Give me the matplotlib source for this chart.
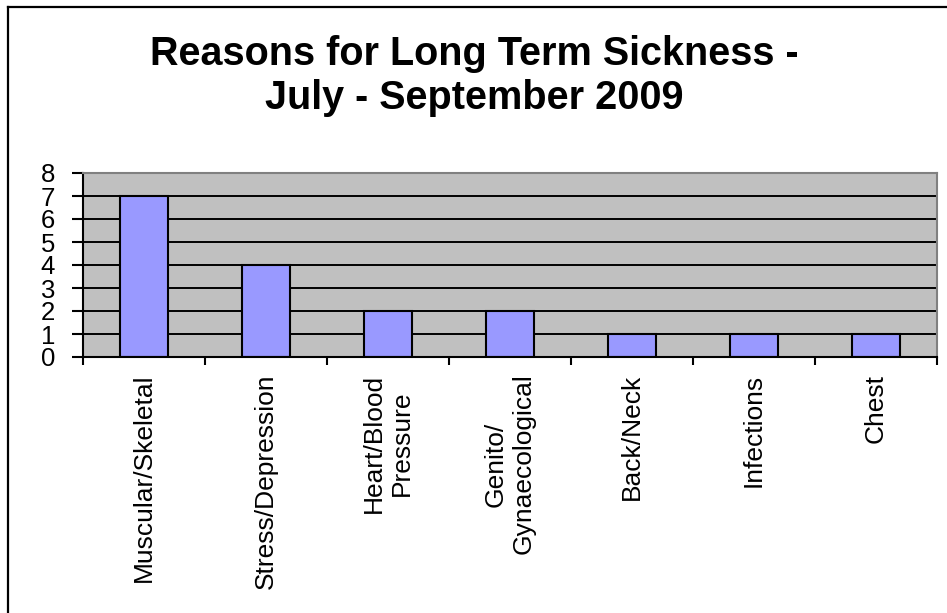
import matplotlib
matplotlib.use("Agg")
import matplotlib.pyplot as plt
from matplotlib.lines import Line2D
import numpy as np

categories = ["Muscular/Skeletal", "Stress/Depression", "Heart/Blood\nPressure",
              "Genito/\nGynaecological", "Back/Neck", "Infections", "Chest"]
values = [7, 4, 2, 2, 1, 1, 1]
yticks = [0, 1, 2, 3, 4, 5, 6, 7, 8]
title_text = "Reasons for Long Term Sickness -\nJuly - September 2009"

plt.rcParams['font.family'] = ['Liberation Sans', 'DejaVu Sans']

W, H = 947, 613
fig = plt.figure(figsize=(W / 100, H / 100), dpi=100)
fig.patch.set_facecolor("white")

L, R, T, B = 83, 937, 173, 357
ax = fig.add_axes([L / W, 1 - B / H, (R - L) / W, (B - T) / H])
ax.set_facecolor("#C0C0C0")

x = np.arange(len(categories))
ax.bar(x, values, width=0.4, color="#9999FF", edgecolor="black", linewidth=1.5, zorder=3)

ax.set_xlim(-0.5, len(categories) - 0.5)
ax.set_ylim(0, 8)
ax.set_yticks(yticks)
ax.set_yticklabels([str(v) for v in yticks], fontsize=18.5)
for v in yticks[1:-1]:
    ax.axhline(v, color="black", linewidth=1.4, zorder=1)

ax.set_xticks(np.arange(-0.5, len(categories), 1.0))
ax.set_xticklabels([])
ax.set_xticks(x, minor=True)
ax.set_xticklabels(categories, minor=True, rotation=90, fontsize=19,
                   ha="center", va="top", multialignment="center")
ax.tick_params(axis="x", which="major", direction="out", length=6, width=1.5, color="black")
ax.tick_params(axis="x", which="minor", length=0, pad=12)
ax.tick_params(axis="y", direction="out", length=8, width=1.5, color="black", pad=12)

for s in ["left", "bottom"]:
    ax.spines[s].set_color("black")
    ax.spines[s].set_linewidth(1.5)
for s in ["top", "right"]:
    ax.spines[s].set_color("#808080")
    ax.spines[s].set_linewidth(1.5)
ax.spines["bottom"].set_zorder(4)

fig.text(474 / W, 1 - 76 / H, title_text, ha="center", va="center", fontsize=28.5,
         fontweight="bold", linespacing=1.2)

# outer frame (left and top edges visible)
fig.add_artist(Line2D([7.5 / W, 7.5 / W], [0, 1 - 6.5 / H], color="black", linewidth=1.6,
                      transform=fig.transFigure))
fig.add_artist(Line2D([7.5 / W, 1], [1 - 6.5 / H, 1 - 6.5 / H], color="black", linewidth=1.6,
                      transform=fig.transFigure))

fig.savefig("out.png", dpi=100)
